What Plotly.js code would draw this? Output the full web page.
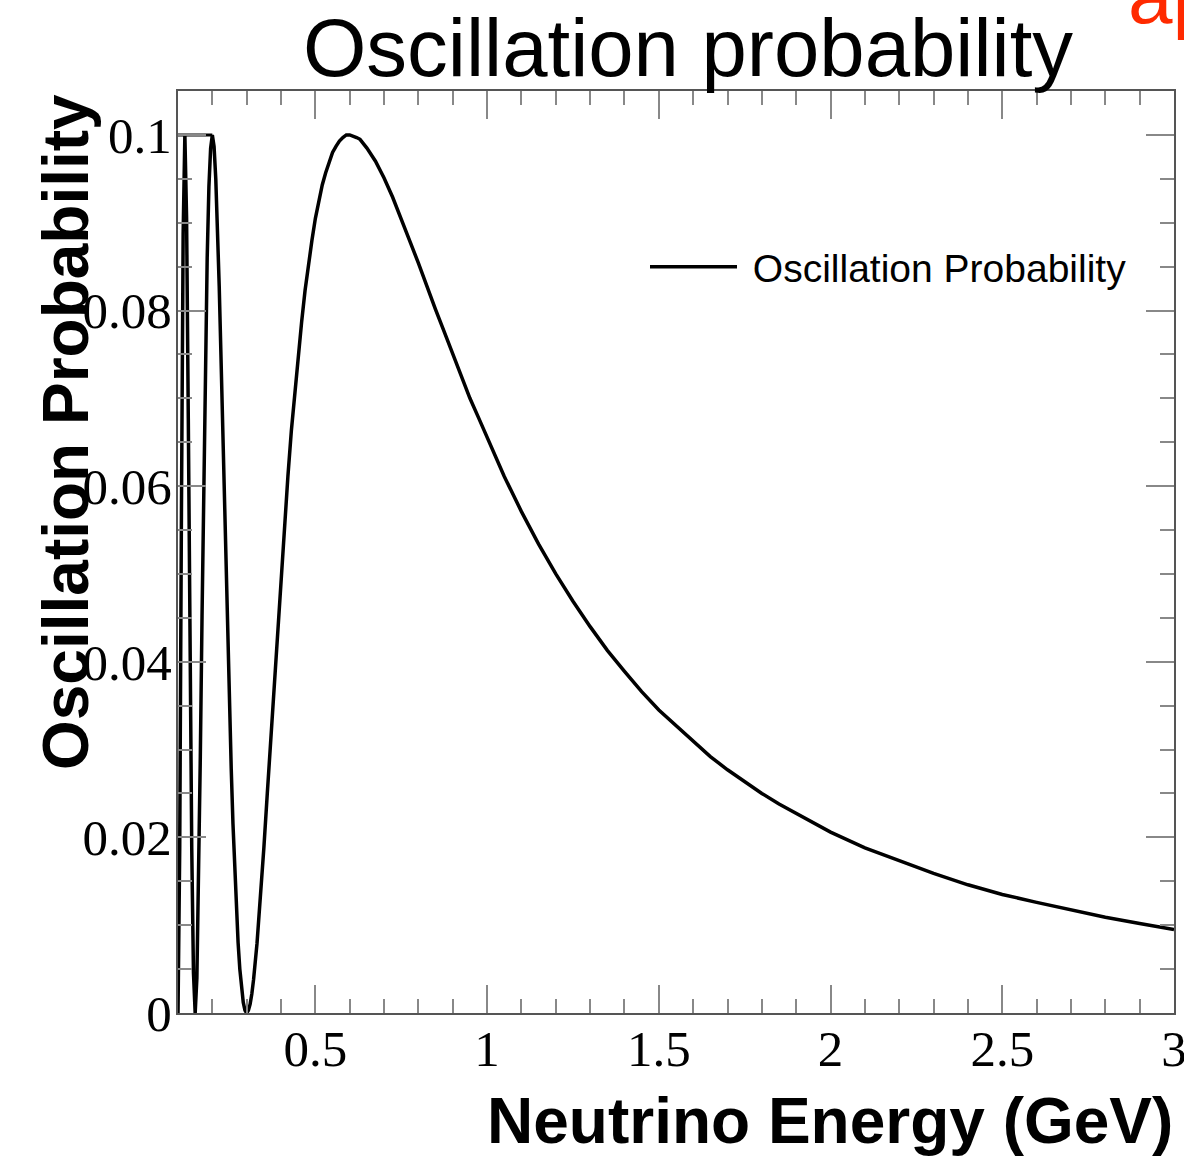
<!DOCTYPE html>
<html>
<head>
<meta charset="utf-8">
<script src="https://cdn.plot.ly/plotly-3.0.1.min.js"></script>
<style>html,body{margin:0;padding:0;background:#fff;}#chart{width:1184px;height:1162px;}</style>
</head>
<body>
<div id="chart"></div>
<script>
// Neutrino energy (GeV) and oscillation probability
const energy = [
  0.100, 0.105, 0.110, 0.115, 0.120, 0.125, 0.130, 0.135, 0.140, 0.145,
  0.150, 0.155, 0.160, 0.165, 0.170, 0.175, 0.180, 0.185, 0.190, 0.195,
  0.200, 0.205, 0.210, 0.215, 0.220, 0.225, 0.230, 0.235, 0.240, 0.245,
  0.250, 0.255, 0.260, 0.265, 0.270, 0.275, 0.280, 0.285, 0.290, 0.295,
  0.300, 0.305, 0.310, 0.315, 0.320,
  0.330, 0.340, 0.350, 0.360, 0.370, 0.380, 0.390, 0.400, 0.410, 0.420,
  0.430, 0.440, 0.450, 0.460, 0.470, 0.480, 0.490, 0.500, 0.510, 0.520,
  0.530, 0.540, 0.550, 0.560, 0.570, 0.580, 0.590, 0.600, 0.610, 0.620, 0.630,
  0.650, 0.675, 0.700, 0.725, 0.750, 0.775, 0.800, 0.825, 0.850, 0.875,
  0.900, 0.925, 0.950, 0.975, 1.000,
  1.050, 1.100, 1.150, 1.200, 1.250, 1.300, 1.350, 1.400, 1.450, 1.500,
  1.550, 1.600, 1.650, 1.700, 1.750, 1.800, 1.850, 1.900, 1.950, 2.000,
  2.100, 2.200, 2.300, 2.400, 2.500, 2.600, 2.700, 2.800, 2.900, 3.000];
const probability = [
  0.0000, 0.0188, 0.0570, 0.0888, 0.1000, 0.0905, 0.0677, 0.0413, 0.0188, 0.0046,
  0.0000, 0.0040, 0.0145, 0.0292, 0.0452, 0.0607, 0.0750, 0.0860, 0.0941, 0.0985,
  0.1000, 0.0987, 0.0950, 0.0895, 0.0828, 0.0750, 0.0668, 0.0585, 0.0500, 0.0420,
  0.0345, 0.0278, 0.0216, 0.0164, 0.0117, 0.0080, 0.0050, 0.0027, 0.0012, 0.0003,
  0.0000, 0.0003, 0.0010, 0.0022, 0.0038,
  0.0079, 0.0131, 0.0188, 0.0250, 0.0311, 0.0377, 0.0440, 0.0500, 0.0557, 0.0611,
  0.0663, 0.0708, 0.0750, 0.0787, 0.0823, 0.0854, 0.0880, 0.0905, 0.0925, 0.0943,
  0.0957, 0.0970, 0.0980, 0.0987, 0.0993, 0.0997, 0.1000, 0.1000, 0.0999, 0.0997, 0.0995,
  0.0985, 0.0970, 0.0951, 0.0929, 0.0905, 0.0879, 0.0854, 0.0827, 0.0801, 0.0776,
  0.0750, 0.0725, 0.0700, 0.0678, 0.0655,
  0.0611, 0.0571, 0.0534, 0.0500, 0.0469, 0.0440, 0.0413, 0.0389, 0.0366, 0.0345,
  0.0327, 0.0309, 0.0292, 0.0277, 0.0263, 0.0250, 0.0238, 0.0227, 0.0216, 0.0206,
  0.0188, 0.0173, 0.0159, 0.0146, 0.0135, 0.0126, 0.0117, 0.0109, 0.0102, 0.0095];
// short flat segment at the top-left of the frame
const topSegX = [0.100, 0.200];
const topSegY = [0.1000, 0.1000];

const seriesName = '\u00a0Oscillation Probability';
const chartTitle = 'Oscillation probability';
const xTitle = 'Neutrino Energy (GeV)';
const yTitle = 'Oscillation Probability';
const cornerText = 'appearance';

const traces = [
  {x: energy, y: probability, type: 'scatter', mode: 'lines', name: seriesName,
   line: {color: '#000000', width: 3.5}, showlegend: true},
  {x: topSegX, y: topSegY, type: 'scatter', mode: 'lines', name: '',
   line: {color: '#000000', width: 3}, showlegend: false, hoverinfo: 'skip'}
];

const tickFont = {family: 'Liberation Serif, Times New Roman, serif', size: 51, color: '#000'};
const axisCommon = {
  showgrid: false, zeroline: false, showline: true, linecolor: '#555', linewidth: 2,
  mirror: 'ticks', ticks: 'inside', ticklen: 28, tickwidth: 2, tickcolor: '#888',
  tickfont: tickFont, ticklabeloverflow: 'allow'
};

const layout = {
  width: 1184, height: 1162,
  margin: {l: 178, r: 10, t: 91, b: 149, pad: 0},
  paper_bgcolor: '#fff', plot_bgcolor: '#fff',
  title: {text: chartTitle, x: 688/1184, xanchor: 'center', xref: 'container',
          y: 1 - 47/1162, yanchor: 'middle', yref: 'container',
          font: {family: 'Liberation Sans, Arial, sans-serif', size: 81.5, color: '#000'}},
  xaxis: Object.assign({}, axisCommon, {
    range: [0.1, 3], tick0: 0, dtick: 0.5, ticklabelstandoff: -10,
    minor: {dtick: 0.1, tick0: 0, ticks: 'inside', ticklen: 14, tickwidth: 2, tickcolor: '#888', showgrid: false}
  }),
  yaxis: Object.assign({}, axisCommon, {
    range: [0, 0.105], tick0: 0, dtick: 0.02, ticklabelstandoff: -6,
    minor: {dtick: 0.005, tick0: 0, ticks: 'inside', ticklen: 14, tickwidth: 2, tickcolor: '#888', showgrid: false}
  }),
  showlegend: true,
  legend: {x: (645-178)/996, y: (1013-267)/922, xanchor: 'left', yanchor: 'middle',
           bgcolor: 'rgba(0,0,0,0)', borderwidth: 0, itemwidth: 87,
           font: {family: 'Liberation Sans, Arial, sans-serif', size: 39, color: '#000'}},
  annotations: [
    {text: '<b>' + xTitle + '</b>', xref: 'paper', yref: 'paper', x: 1.0015, y: (1013-1121)/922,
     xanchor: 'right', yanchor: 'middle', showarrow: false,
     font: {family: 'Liberation Sans, Arial, sans-serif', size: 64, color: '#000'}},
    {text: '<b>' + yTitle + '</b>', xref: 'paper', yref: 'paper', x: (66-178)/996, y: (1013-432)/922,
     xanchor: 'center', yanchor: 'middle', textangle: -90, showarrow: false,
     font: {family: 'Liberation Sans, Arial, sans-serif', size: 64, color: '#000'}},
    {text: cornerText, xref: 'paper', yref: 'paper', x: (1126-178)/996, y: (1013+5)/922,
     xanchor: 'left', yanchor: 'middle', showarrow: false,
     font: {family: 'Liberation Sans, Arial, sans-serif', size: 80, color: '#ff2a00'}}
  ]
};

Plotly.newPlot('chart', traces, layout, {displayModeBar: false, staticPlot: true});
</script>
</body>
</html>
